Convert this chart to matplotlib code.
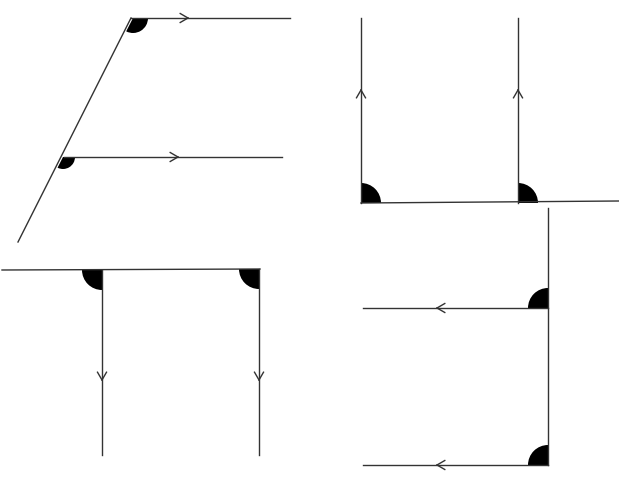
import matplotlib
matplotlib.use('Agg')
import matplotlib.pyplot as plt
from matplotlib.patches import Wedge
import numpy as np

W, H = 619, 487

# segments in pixel coords (x0, y0, x1, y1), y measured from top
segments = [
    (18, 242, 131, 18), (131, 18, 290, 18), (64, 157, 282, 157),
    (361, 18, 361, 203), (518, 18, 518, 203), (361, 203, 619, 201),
    (2, 270, 260, 269), (102, 270, 102, 455), (259, 269, 259, 455),
    (548, 208, 548, 465), (363, 308, 548, 308), (363, 465, 548, 465),
]
# arrow heads: x, y, direction in degrees (screen, y up)
arrows = [(188, 18, 0), (178, 157, 0), (361, 90, 90), (518, 90, 90),
          (102, 380, -90), (259, 380, -90), (437, 308, 180), (437, 465, 180)]
# angle wedges: x, y, radius, theta1, theta2
wedges = [(133, 18, 15, -117, 0), (63, 157, 12, -117, 0),
          (361, 203, 20, 0, 90), (518, 203, 20, 0, 90),
          (102, 270, 20, 180, 270), (259, 269, 20, 180, 270),
          (548, 308, 20, 90, 180), (548, 465, 20, 90, 180)]

fig = plt.figure(figsize=(W / 100, H / 100), dpi=100)
ax = fig.add_axes([0, 0, 1, 1])
ax.set_xlim(0, W)
ax.set_ylim(0, H)
ax.axis('off')

for x0, y0, x1, y1 in segments:
    ax.plot([x0, x1], [H - y0, H - y1], color='0.2', lw=1)

for x, y, d in arrows:
    for s in (150, -150):
        a = np.radians(d + s)
        ax.plot([x, x + 9 * np.cos(a)], [H - y, H - y + 9 * np.sin(a)],
                color='0.2', lw=1)

for x, y, r, t1, t2 in wedges:
    ax.add_patch(Wedge((x, H - y), r, t1, t2, color='black', lw=0))

fig.savefig('out.png', dpi=100)
